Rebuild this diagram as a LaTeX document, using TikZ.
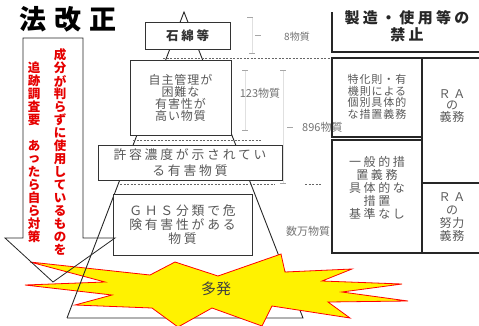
\documentclass[tikz,border=0pt]{standalone}
\usepackage{fontspec}
\setmainfont{Noto Sans CJK JP}
\newfontfamily\boxfont[LetterSpace=8]{Noto Sans CJK JP}
\newfontfamily\widefont[LetterSpace=22]{Noto Sans CJK JP}
\newfontfamily\titlefont[LetterSpace=28]{Noto Sans CJK JP}

\begin{document}
\begin{tikzpicture}[
    x=1pt, y=-1pt,
    box/.style={draw=black!80, line width=0.9pt, fill=white, inner sep=0pt, align=center, text=black!65},
    cell/.style={draw=black!85, line width=1.6pt},
    celltext/.style={align=center, text=black!65, inner sep=0pt},
    edge/.style={draw=black!85, line width=0.9pt},
    limit/.style={draw=black!60, line width=0.5pt, dash pattern=on 2pt off 1.5pt},
    tick/.style={draw=black!35, line width=0.6pt},
    tally/.style={text=black!55, inner sep=0pt, font=\fontsize{10}{11}\selectfont},
    redchar/.style={text=red!90!black, inner sep=0pt, font=\bfseries\fontsize{12.5}{13}\selectfont},
    burst/.style={fill=yellow, draw=red, line width=0.8pt, line join=miter},
]
    \useasboundingbox (0,0) rectangle (479,325);

    % Pyramid outline (left edge split so its lower part sits on the burst)
    \coordinate (apex) at (184,12);
    \coordinate (baseL) at (67,318);
    \coordinate (baseR) at (303,318);
    \coordinate (lowL) at (90.7,256);
    \draw[edge] (lowL) -- (apex) -- (baseR) -- (baseL);

    % Dashed level lines
    \draw[limit] (163,58) -- (332,58);
    \draw[limit] (133,140) -- (262,140);
    \draw[limit] (120,184) -- (275,184);
    \draw[limit] (305,184) -- (321,184);

    % Substance groups stacked in the pyramid
    \node[box, minimum width=85, minimum height=27, font=\bfseries\widefont\fontsize{12.5}{13}\selectfont, text=black!80]
        (asbestos) at (187.5,35.5) {石綿等};
    \node[box, minimum width=101, minimum height=75, font=\boxfont\fontsize{12}{12}\selectfont]
        (severe) at (180.5,97.5) {自主管理が\\困難な\\有害性が\\高い物質};
    \node[box, minimum width=184, minimum height=35, font=\widefont\fontsize{12.8}{16}\selectfont]
        (oel) at (190,162.5) {許容濃度が示されてい\\る有害物質};
    \node[box, minimum width=139, minimum height=61, font=\widefont\fontsize{12.8}{14}\selectfont]
        (ghs) at (182.5,224.5) {ＧＨＳ分類で危\\険有害性がある\\物質};

    % Count brackets
    \draw[black!12, line width=0.5pt] (252,17) -- (252,53);
    \draw[black!12, line width=0.5pt] (245,70) -- (245,130);
    \draw[black!12, line width=0.5pt] (283,70) -- (283,183);
    \foreach \x/\y in {247/17, 255/35, 249/53, 242/70, 242/130, 280/70, 287/127, 280/183}
        \draw[tick] (\x,\y) -- ++(6,0);
    \node[tally] (n8) at (297,37) {8物質};
    \node[tally, font=\fontsize{11}{11}\selectfont] (n123) at (260,93) {123物質};
    \node[tally, font=\fontsize{11}{11}\selectfont, anchor=west] (n896) at (302,127) {896物質};
    \node[tally, font=\fontsize{11}{11}\selectfont] (nmany) at (308,231) {数万物質};

    % Regulation table
    \draw[cell] (332,12) -- (332,52) -- (481,52);
    \draw[cell] (332,58) rectangle (422,137);
    \draw[cell] (332,140) rectangle (422,253);
    \draw[cell] (422,58) rectangle (482,183);
    \draw[cell] (422,183) rectangle (482,253);
    \node[celltext, font=\bfseries\widefont\fontsize{15}{17}\selectfont, text=black!85]
        (ban) at (407,26) {製造・使用等の\\禁止};
    \node[celltext, font=\boxfont\fontsize{11}{11.5}\selectfont]
        (special) at (377,97) {特化則・有\\機則による\\個別具体的\\な措置義務};
    \node[celltext, font=\widefont\fontsize{12}{13}\selectfont]
        (general) at (377,188) {一般的措\\置義務\\具体的な\\措置\\基準なし};
    \node[celltext, font=\boxfont\fontsize{12}{11.5}\selectfont]
        (raduty) at (452,106) {\widefont ＲＡ\\の\\義務};
    \node[celltext, font=\boxfont\fontsize{12}{13}\selectfont]
        (raeffort) at (452,217) {\widefont ＲＡ\\の\\努力\\義務};

    % Title
    \node[font=\bfseries\titlefont\fontsize{27}{27}\selectfont, inner sep=0pt] (title) at (68,19) {法改正};

    % Vertical red note
    \foreach \c [count=\i] in {成,分,が,判,ら,ず,に,使,用,し,て,い,る,も,の,を}
        \node[redchar] (ra\i) at (60,42+13*\i) {\c};
    \foreach \c [count=\i] in {追,跡,調,査,要,　,あ,っ,た,ら,自,ら,対,策}
        \node[redchar] (rb\i) at (34,55+13*\i) {\c};

    % Burst
    \draw[burst] (30,262) -- (150,275) -- (175,262) -- (218,276) -- (281,254)
        -- (285,272) -- (352,269) -- (322,281) -- (402,284) -- (342,292)
        -- (408,301) -- (328,302) -- (350,318) -- (272,306) -- (262,326)
        -- (212,308) -- (178,327) -- (152,308) -- (75,305) -- (112,295)
        -- (25,285) -- (105,282) -- cycle;
    \node[text=black!75, font=\fontsize{15}{15}\selectfont, inner sep=0pt] (often) at (216,289) {多発};
    \draw[edge] (lowL) -- (baseL);

    % Callout frame around the note
    \draw[edge, line width=0.8pt] (23,38) -- (83,38) -- (83,238) -- (115,238)
        -- (53,282) -- (5,238) -- (23,238) -- cycle;
\end{tikzpicture}
\end{document}
